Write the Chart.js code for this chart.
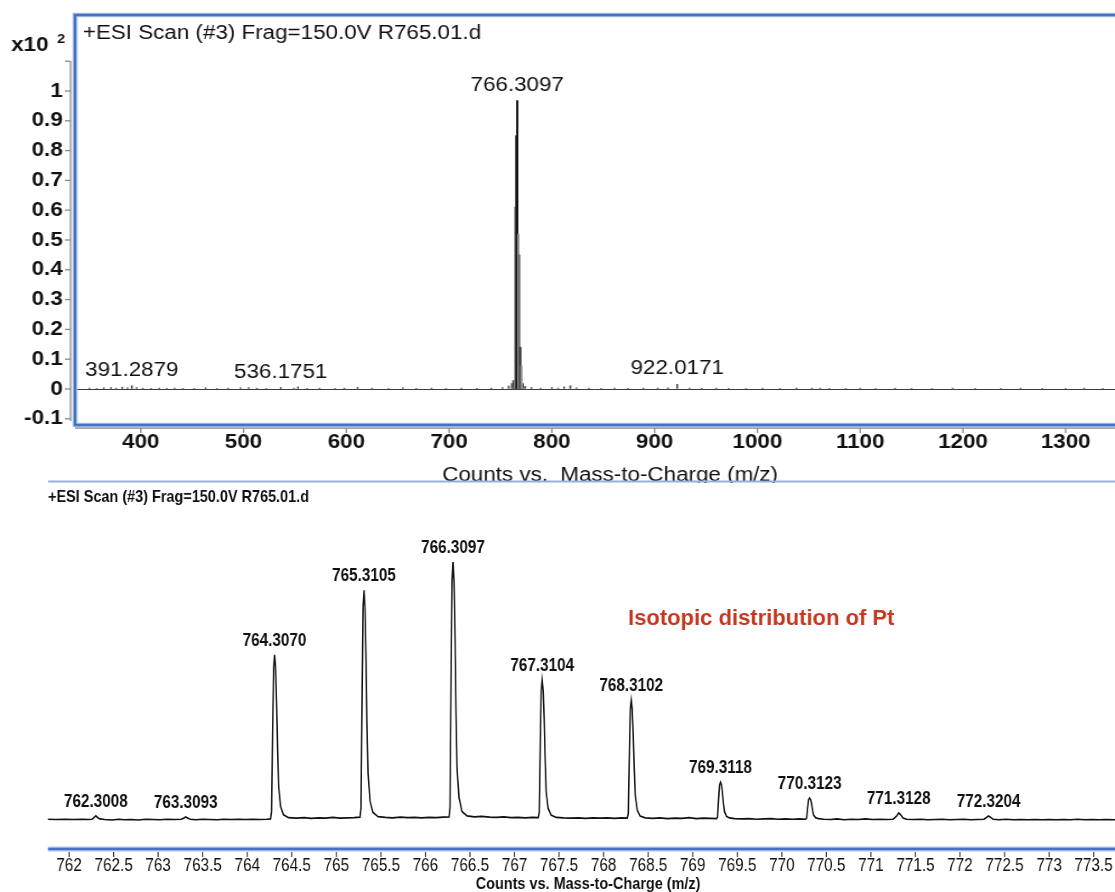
<!DOCTYPE html>
<html lang="en">
<head>
<meta charset="UTF-8">
<title>+ESI Scan (#3) R765.01.d</title>
<script src="https://cdn.jsdelivr.net/npm/chart.js@4.4.1/dist/chart.umd.js"></script>
<style>
    body { margin: 0; background: #fff; }
    #wrap { position: relative; width: 1115px; height: 892px; overflow: hidden; background: #fff; }
    /* the two panels were pasted stretched / squeezed sideways, so do the same */
    #topBox { position: absolute; left: 0; top: 0; width: 996px; height: 483px;
              transform: scaleX(1.1195); transform-origin: 0 0; }
    #botBox { position: absolute; left: 0; top: 483px; width: 1312px; height: 409px;
              transform: scaleX(0.84985); transform-origin: 0 0; }
</style>
</head>
<body>
<div id="wrap">
    <div id="topBox"><canvas id="topChart" width="996" height="483"></canvas></div>
    <div id="botBox"><canvas id="isoChart" width="1312" height="409"></canvas></div>
</div>
<script>
// ---------- full scan (top) ----------
const topTickMz = [400, 500, 600, 700, 800, 900, 1000, 1100, 1200, 1300];
const topTickCounts = [-0.1, 0, 0.1, 0.2, 0.3, 0.4, 0.5, 0.6, 0.7, 0.8, 0.9, 1, 1.1];

// Pt cluster sticks (x10^2 counts)
const topPeakMz = [764.307, 765.3105, 766.3097, 767.3104, 768.3102, 769.3118, 770.3123];
const topPeakCounts = [0.61, 0.85, 0.968, 0.52, 0.45, 0.14, 0.077];
const topPeakShade = ['#8a8a8a', '#2a2a2a', '#111111', '#8a8a8a', '#6a6a6a', '#333333', '#8a8a8a'];

// small sticks along the baseline
const topNoiseMz = [350, 357, 364, 371, 376, 382, 387, 391.2879, 396, 402, 410, 418, 425, 433, 441,
    452, 463, 474, 485, 497, 505, 513, 522, 536.1751, 549, 553, 562, 574, 589, 598, 611, 625, 641,
    655, 668, 683, 697, 712, 727, 741, 752, 758, 761, 762.3, 763.3, 772, 774, 780, 789, 800, 806,
    812, 818, 824, 836, 848, 861, 874, 889, 903, 913, 922.0171, 934, 946, 960, 972, 989, 1005,
    1022, 1038, 1053, 1061, 1070, 1086, 1100, 1115, 1134, 1150, 1170, 1190, 1212, 1237, 1256,
    1277, 1300, 1318, 1336];
const topNoiseCounts = [0.003, 0.002, 0.004, 0.005, 0.003, 0.006, 0.004, 0.011, 0.005, 0.003, 0.002,
    0.003, 0.002, 0.003, 0.002, 0.002, 0.004, 0.002, 0.003, 0.004, 0.005, 0.003, 0.002, 0.005, 0.003,
    0.007, 0.002, 0.003, 0.002, 0.003, 0.006, 0.003, 0.002, 0.004, 0.002, 0.003, 0.002, 0.003, 0.002,
    0.003, 0.005, 0.01, 0.018, 0.028, 0.028, 0.018, 0.009, 0.005, 0.003, 0.005, 0.003, 0.007, 0.011, 0.004,
    0.003, 0.002, 0.003, 0.002, 0.003, 0.003, 0.004, 0.016, 0.003, 0.002, 0.003, 0.002, 0.002, 0.003,
    0.002, 0.003, 0.003, 0.003, 0.002, 0.002, 0.003, 0.002, 0.003, 0.002, 0.002, 0.003, 0.002, 0.002,
    0.003, 0.002, 0.002, 0.003, 0.002];

const topLabelMz = [391.2879, 536.1751, 766.3097, 922.0171];
const topLabelCounts = [0.013, 0.004, 0.968, 0.02];

// ---------- zoomed profile (bottom), relative counts ----------
const isoTickMz = [762, 762.5, 763, 763.5, 764, 764.5, 765, 765.5, 766, 766.5, 767, 767.5,
    768, 768.5, 769, 769.5, 770, 770.5, 771, 771.5, 772, 772.5, 773, 773.5];

const profileMz = [
    761.76, 761.85, 761.95, 762.05, 762.15, 762.22, 762.26, 762.285, 762.3008, 762.32, 762.345,
    762.40, 762.48, 762.56, 762.62, 762.70, 762.78, 762.86, 762.94, 763.02, 763.10, 763.18, 763.26,
    763.29, 763.3093, 763.33, 763.36, 763.42, 763.50, 763.58, 763.66, 763.74, 763.82, 763.90,
    763.98, 764.06, 764.14, 764.22,
    764.262, 764.273, 764.285, 764.296, 764.307, 764.318, 764.329, 764.341, 764.352, 764.374, 764.407, 764.464,
    764.55, 764.64, 764.72, 764.80, 764.88, 764.96, 765.04, 765.12, 765.20,
    765.266, 765.277, 765.289, 765.300, 765.3105, 765.322, 765.333, 765.344, 765.356, 765.378, 765.411, 765.468,
    765.55, 765.63, 765.72, 765.80, 765.88, 765.96, 766.04, 766.12, 766.20,
    766.265, 766.276, 766.288, 766.299, 766.3097, 766.321, 766.332, 766.343, 766.355, 766.377, 766.410, 766.467,
    766.55, 766.63, 766.72, 766.80, 766.88, 766.96, 767.04, 767.12, 767.20,
    767.266, 767.277, 767.289, 767.299, 767.3104, 767.322, 767.333, 767.344, 767.355, 767.377, 767.410, 767.467,
    767.55, 767.63, 767.72, 767.80, 767.88, 767.96, 768.04, 768.12, 768.20,
    768.266, 768.277, 768.289, 768.299, 768.3102, 768.321, 768.332, 768.344, 768.355, 768.377, 768.410, 768.467,
    768.55, 768.63, 768.72, 768.80, 768.88, 768.96, 769.04, 769.12, 769.20,
    769.267, 769.279, 769.290, 769.301, 769.3118, 769.323, 769.334, 769.346, 769.357, 769.379, 769.412, 769.469,
    769.55, 769.63, 769.72, 769.80, 769.88, 769.96, 770.04, 770.12, 770.20,
    770.268, 770.279, 770.290, 770.301, 770.3123, 770.323, 770.335, 770.346, 770.357, 770.379, 770.412, 770.469,
    770.55, 770.62, 770.70, 770.78, 770.86, 770.94, 771.02, 771.10, 771.18, 771.25,
    771.29, 771.3128, 771.335, 771.36, 771.40,
    771.48, 771.56, 771.64, 771.72, 771.80, 771.88, 771.96, 772.04, 772.12, 772.20, 772.27,
    772.30, 772.3204, 772.345, 772.37,
    772.44, 772.52, 772.60, 772.68, 772.76, 772.84, 772.92, 773.00, 773.08, 773.16, 773.24,
    773.32, 773.40, 773.48, 773.56, 773.64, 773.74
];
const profileCounts = [
    0.3, 0.2, 0.3, 0.2, 0.3, 0.2, 0.3, 1.1, 1.6, 1.0, 0.4,
    0.2, 0.0, 0.3, 0.1, 0.2, 0.0, 0.3, 0.2, 0.1, 0.3, 0.2, 0.3,
    0.8, 1.2, 0.8, 0.3, 0.1, 0.3, 0.2, 0.1, 0.3, 0.2, 0.3,
    0.2, 0.3, 0.2, 0.3,
    0.4, 3.2, 35, 59, 64, 59.5, 46, 27, 13, 5.2, 2.0, 0.9,
    0.7, 0.9, 0.6, 0.8, 0.7, 1.0, 0.7, 0.8, 0.9,
    1.1, 4.5, 49, 83, 89, 82, 63, 37, 18, 7.3, 2.9, 1.3,
    1.0, 0.8, 1.1, 0.9, 1.0, 0.8, 1.0, 0.9, 1.1,
    1.2, 5.2, 55, 93, 100, 92, 71, 42, 20, 8.6, 3.3, 1.6,
    1.2, 1.4, 1.1, 1.0, 1.2, 0.9, 1.0, 0.8, 1.0,
    0.9, 2.9, 30, 50, 54.3, 50, 39, 23, 11, 4.6, 1.9, 1.0,
    0.8, 0.7, 0.8, 0.6, 0.8, 0.7, 0.8, 0.6, 0.8,
    0.7, 2.5, 26, 43, 46.5, 43, 33, 19.5, 9.4, 3.9, 1.5, 0.8,
    0.6, 0.8, 0.5, 0.7, 0.6, 0.9, 0.5, 0.7, 0.6,
    0.5, 1.1, 8.0, 13.6, 14.7, 13.7, 10.5, 6.3, 3.2, 1.4, 0.8, 0.5,
    0.4, 0.5, 0.3, 0.4, 0.5, 0.3, 0.4, 0.3, 0.4,
    0.3, 0.8, 4.8, 7.9, 8.5, 7.9, 6.1, 3.7, 1.9, 0.9, 0.5, 0.3,
    0.2, 0.4, 0.1, 0.3, 0.2, 0.4, 0.2, 0.3, 0.2, 0.3,
    1.6, 2.7, 2.0, 0.8, 0.3,
    0.2, 0.3, 0.1, 0.2, 0.3, 0.1, 0.2, 0.3, 0.1, 0.2, 0.3,
    1.1, 1.6, 1.0, 0.3,
    0.1, 0.3, 0.1, 0.2, 0.1, 0.2, 0.1, 0.2, 0.1, 0.2, 0.1,
    0.3, 0.1, 0.2, 0.1, 0.2, 0.1
];

const isoLabelMz = [762.3008, 763.3093, 764.3070, 765.3105, 766.3097, 767.3104,
    768.3102, 769.3118, 770.3123, 771.3128, 772.3204];
const isoLabelCounts = [1.6, 1.2, 64, 89, 100, 54.3, 46.5, 14.7, 8.5, 2.7, 1.6];

const SANS = '"Liberation Sans", Arial, sans-serif';
const frameBlue = '#4472c4';

function seg(ctx, x1, y1, x2, y2) {
    ctx.beginPath();
    ctx.moveTo(x1, y1);
    ctx.lineTo(x2, y2);
    ctx.stroke();
}

// keep the plot area exactly where the layout padding puts it
function noEdgePadding(s) {
    s.paddingLeft = 0;
    s.paddingRight = 0;
    s.paddingTop = 0;
    s.paddingBottom = 0;
}

// frame, axis lines, tick marks and texts of the full scan
const topDecor = {
    id: 'topDecor',
    afterDraw(chart) {
        const { ctx, chartArea: a, scales: { x, y } } = chart;
        ctx.save();

        // grey axes with outside tick marks
        ctx.strokeStyle = '#8c8c8c';
        ctx.lineWidth = 1.3;
        const axX = a.left - 4;
        seg(ctx, axX, y.getPixelForValue(1.1), axX, a.bottom - 4);
        topTickCounts.forEach(v => {
            const p = y.getPixelForValue(v);
            seg(ctx, axX - 5, p, axX, p);
        });
        const axY = a.bottom + 3;
        seg(ctx, a.left, axY, a.right, axY);
        topTickMz.forEach(m => {
            const p = x.getPixelForValue(m);
            seg(ctx, p, axY, p, axY + 5);
        });

        // blue frame (open on the right, cut by the picture edge)
        const frame = () => {
            ctx.beginPath();
            ctx.moveTo(a.right + 10, a.top);
            ctx.lineTo(a.left, a.top);
            ctx.lineTo(a.left, a.bottom);
            ctx.lineTo(a.right + 10, a.bottom);
            ctx.stroke();
        };
        ctx.strokeStyle = '#b5c9ec';
        ctx.lineWidth = 4.5;
        frame();
        ctx.strokeStyle = frameBlue;
        ctx.lineWidth = 2.4;
        frame();

        ctx.fillStyle = '#111';
        ctx.textBaseline = 'middle';
        ctx.textAlign = 'left';
        ctx.font = 'bold 20px ' + SANS;
        ctx.fillText('x10', 10, 45);
        ctx.font = 'bold 13px ' + SANS;
        ctx.fillText('2', 51, 39);

        ctx.font = '20px ' + SANS;
        ctx.fillText('+ESI Scan (#3) Frag=150.0V R765.01.d', 74, 33);

        ctx.textAlign = 'center';
        topLabelMz.forEach((m, i) => {
            ctx.fillText(m.toFixed(4), x.getPixelForValue(m), y.getPixelForValue(topLabelCounts[i]) - 15);
        });

        // axis title, partly hidden under the divider line
        ctx.textBaseline = 'alphabetic';
        ctx.fillText('Counts vs.  Mass-to-Charge (m/z)', 545, 481);
        ctx.strokeStyle = '#93b1dc';
        ctx.lineWidth = 2;
        seg(ctx, 43, 481.5, chart.width, 481.5);
        ctx.restore();
    }
};

new Chart(document.getElementById('topChart'), {
    type: 'bar',
    data: {
        datasets: [
            {
                data: topPeakMz.map((m, i) => ({ x: m, y: topPeakCounts[i] })),
                backgroundColor: topPeakShade,
                barThickness: 1.3,
                grouped: false
            },
            {
                data: topNoiseMz.map((m, i) => ({ x: m, y: topNoiseCounts[i] })),
                backgroundColor: '#555',
                barThickness: 1,
                grouped: false
            }
        ]
    },
    options: {
        responsive: false,
        animation: false,
        layout: { padding: { top: 15, left: 0, right: 0, bottom: 0 } },
        plugins: { legend: { display: false }, tooltip: { enabled: false } },
        scales: {
            x: {
                type: 'linear',
                min: 336,
                max: 1348,
                offset: false,
                grid: { display: false },
                border: { display: false },
                afterBuildTicks: s => { s.ticks = topTickMz.map(v => ({ value: v })); },
                afterFit: s => { s.height = 58; noEdgePadding(s); },
                ticks: {
                    autoSkip: false,
                    maxRotation: 0,
                    padding: -3,
                    color: '#111',
                    font: { family: SANS, size: 20, weight: 'bold' },
                    callback: v => String(v)
                }
            },
            y: {
                min: -0.1208,
                max: 1.255,
                border: { display: false },
                grid: {
                    drawTicks: false,
                    lineWidth: 1,
                    color: c => (c.tick && c.tick.value === 0 ? '#3c3c3c' : 'rgba(0,0,0,0)')
                },
                afterBuildTicks: s => { s.ticks = topTickCounts.map(v => ({ value: v })); },
                afterFit: s => { s.width = 67; noEdgePadding(s); },
                ticks: {
                    autoSkip: false,
                    padding: 11,
                    color: '#111',
                    font: { family: SANS, size: 20, weight: 'bold' },
                    callback: v => (v > 1.05 ? '' : String(Math.round(v * 10) / 10))
                }
            }
        }
    },
    plugins: [topDecor]
});

// texts and the blue axis of the zoomed profile
const isoDecor = {
    id: 'isoDecor',
    afterDraw(chart) {
        const { ctx, chartArea: a, scales: { x, y } } = chart;
        ctx.save();
        ctx.fillStyle = '#111';
        ctx.textBaseline = 'middle';
        ctx.textAlign = 'left';
        ctx.font = 'bold 17px ' + SANS;
        ctx.fillText('+ESI Scan (#3) Frag=150.0V R765.01.d', a.left, 14);

        ctx.textAlign = 'center';
        ctx.font = 'bold 18px ' + SANS;
        isoLabelMz.forEach((m, i) => {
            ctx.fillText(m.toFixed(4), x.getPixelForValue(m), y.getPixelForValue(isoLabelCounts[i]) - 14);
        });

        // red note was typed on top of the squeezed picture: undo the squeeze for it
        ctx.save();
        ctx.translate(739, 136);
        ctx.scale(1 / 0.85, 1);
        ctx.textAlign = 'left';
        ctx.fillStyle = '#c4391f';
        ctx.font = 'bold 22px ' + SANS;
        ctx.fillText('Isotopic distribution of Pt', 0, 0);
        ctx.restore();

        // double blue axis line with tick marks
        ctx.strokeStyle = '#b5c9ec';
        ctx.lineWidth = 5;
        seg(ctx, a.left, a.bottom, a.right, a.bottom);
        ctx.strokeStyle = frameBlue;
        ctx.lineWidth = 2.4;
        seg(ctx, a.left, a.bottom, a.right, a.bottom);
        ctx.strokeStyle = '#333';
        ctx.lineWidth = 1.3;
        isoTickMz.forEach(m => {
            const p = x.getPixelForValue(m);
            seg(ctx, p, a.bottom + 3, p, a.bottom + 8);
        });

        ctx.font = 'bold 17px ' + SANS;
        ctx.fillText('Counts vs. Mass-to-Charge (m/z)', 692, 401);
        ctx.restore();
    }
};

new Chart(document.getElementById('isoChart'), {
    type: 'line',
    data: {
        datasets: [{
            data: profileMz.map((m, i) => ({ x: m, y: profileCounts[i] })),
            borderColor: '#111',
            borderWidth: 1.7,
            pointRadius: 0,
            tension: 0,
            fill: false
        }]
    },
    options: {
        responsive: false,
        animation: false,
        layout: { padding: { top: 30, left: 56.5, right: 0, bottom: 0 } },
        plugins: { legend: { display: false }, tooltip: { enabled: false } },
        scales: {
            x: {
                type: 'linear',
                min: 761.764,
                max: 773.74,
                grid: { display: false },
                border: { display: false },
                afterBuildTicks: s => { s.ticks = isoTickMz.map(v => ({ value: v })); },
                afterFit: s => { s.height = 43; noEdgePadding(s); },
                ticks: {
                    autoSkip: false,
                    maxRotation: 0,
                    padding: -2,
                    color: '#111',
                    font: { family: SANS, size: 18 },
                    callback: v => String(v)
                }
            },
            y: {
                display: false,
                min: -11.24,
                max: 119
            }
        }
    },
    plugins: [isoDecor]
});
</script>
</body>
</html>
